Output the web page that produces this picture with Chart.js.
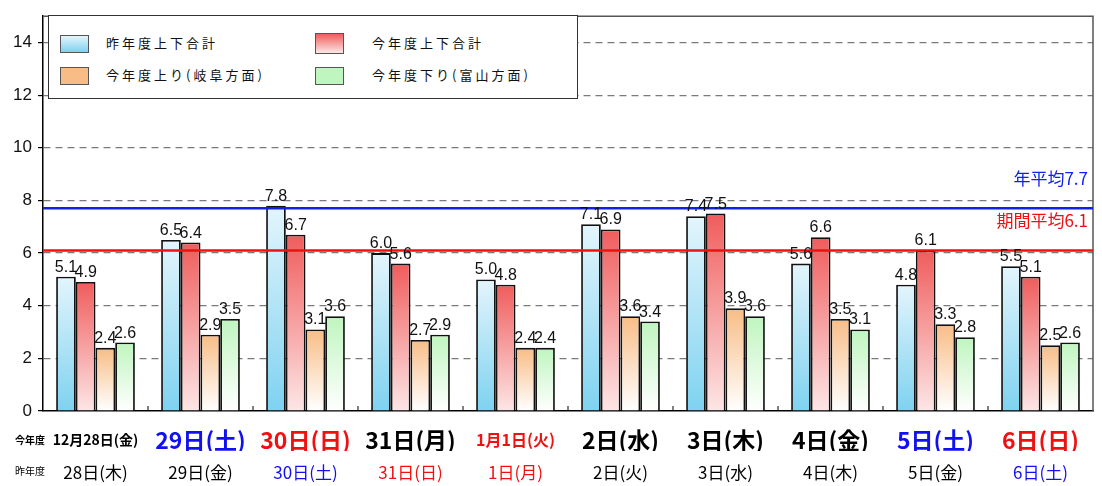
<!DOCTYPE html>
<html>
<head>
<meta charset="utf-8">
<script src="https://cdn.jsdelivr.net/npm/chart.js@4.4.1/dist/chart.umd.min.js"></script>
<style>
body { margin: 0; background: #fff; }
#wrap { position: relative; width: 1102px; height: 486px; }
#legend { position: absolute; left: 48px; top: 15px; width: 528px; height: 82px; border: 1.5px solid #333; background: #fff;
  font-family: "Noto Sans CJK JP", sans-serif; font-size: 13px; letter-spacing: 3px; color: #111; }
#legend .sw { position: absolute; width: 27px; height: 16px; border: 1.5px solid #555; }
#legend .tx { position: absolute; white-space: nowrap; }
</style>
</head>
<body>
<div id="wrap">
  <canvas id="trafficChart"></canvas>
  <div id="legend"></div>
</div>
<script>
var thisYearLabels = ["12月28日(金)", "29日(土)", "30日(日)", "31日(月)", "1月1日(火)", "2日(水)", "3日(木)", "4日(金)", "5日(土)", "6日(日)"];
var lastYearLabels = ["28日(木)", "29日(金)", "30日(土)", "31日(日)", "1日(月)", "2日(火)", "3日(水)", "4日(木)", "5日(金)", "6日(土)"];
var thisYearColors = ["#000", "#1010f0", "#f01010", "#000", "#f01010", "#000", "#000", "#000", "#1010f0", "#f01010"];
var lastYearColors = ["#000", "#000", "#1010f0", "#f01010", "#f01010", "#000", "#000", "#000", "#000", "#1010f0"];
var thisYearSizes = [14, 23, 23, 23, 16, 23, 23, 23, 23, 23];

var lastYearTotal = [5.1, 6.5, 7.8, 6.0, 5.0, 7.1, 7.4, 5.6, 4.8, 5.5];
var thisYearTotal = [4.9, 6.4, 6.7, 5.6, 4.8, 6.9, 7.5, 6.6, 6.1, 5.1];
var thisYearUp = [2.4, 2.9, 3.1, 2.7, 2.4, 3.6, 3.9, 3.5, 3.3, 2.5];
var thisYearDown = [2.6, 3.5, 3.6, 2.9, 2.4, 3.4, 3.6, 3.1, 2.8, 2.6];

var yearAverage = 7.7;
var periodAverage = 6.1;

var seriesNames = ["昨年度上下合計", "今年度上下合計", "今年度上り(岐阜方面)", "今年度下り(富山方面)"];
// top colour, bottom colour
var seriesGrad = [["#e4f5fc", "#7ed2f0"], ["#f05c5c", "#fde6e6"], ["#f8bd86", "#ffffff"], ["#bff5bf", "#ffffff"]];

var jp = '"Noto Sans CJK JP", sans-serif';
var num = '"Liberation Sans", Arial, sans-serif';

function barFill(k) {
    return function(c) {
        var chart = c.chart;
        if (!chart.chartArea || !chart.scales.y || c.raw === undefined) return seriesGrad[k][1];
        var y = chart.scales.y;
        var top = y.getPixelForValue(c.raw);
        var bottom = y.getPixelForValue(0);
        var g = chart.ctx.createLinearGradient(0, top, 0, bottom);
        g.addColorStop(0, seriesGrad[k][0]);
        g.addColorStop(1, seriesGrad[k][1]);
        return g;
    };
}

// legend
var legend = document.getElementById("legend");
var legPos = [[11, 19], [266, 17], [11, 51], [266, 51]];
var legTextX = [57, 323, 57, 323];
seriesNames.forEach(function(name, k) {
    var sw = document.createElement("div");
    sw.className = "sw";
    sw.style.left = legPos[k][0] + "px";
    sw.style.top = legPos[k][1] + "px";
    if (k === 1) sw.style.height = "19px";
    sw.style.background = "linear-gradient(" + seriesGrad[k][0] + "," + (k > 1 ? seriesGrad[k][0] : seriesGrad[k][1]) + ")";
    legend.appendChild(sw);
    var tx = document.createElement("div");
    tx.className = "tx";
    tx.textContent = name;
    tx.style.left = legTextX[k] + "px";
    tx.style.top = (k === 1 ? 17 : legPos[k][1] - 2) + "px";
    legend.appendChild(tx);
});

var extras = {
    id: "extras",
    afterDatasetsDraw: function(chart) {
        var ctx = chart.ctx, a = chart.chartArea, y = chart.scales.y, x = chart.scales.x;
        ctx.save();
        // frame
        ctx.strokeStyle = "#555";
        ctx.lineWidth = 1.5;
        ctx.beginPath();
        ctx.moveTo(a.left, a.top); ctx.lineTo(a.right, a.top); ctx.lineTo(a.right, a.bottom);
        ctx.stroke();
        // category ticks
        ctx.strokeStyle = "#000";
        ctx.lineWidth = 1;
        var w = x.getPixelForValue(1) - x.getPixelForValue(0);
        for (var i = 1; i < thisYearLabels.length; i++) {
            var px = x.getPixelForValue(i) - w / 2;
            ctx.beginPath(); ctx.moveTo(px, a.bottom); ctx.lineTo(px, a.bottom - 5); ctx.stroke();
        }
        // average lines
        var avgs = [[yearAverage, "#1020f0", "年平均"], [periodAverage, "#f01010", "期間平均"]];
        avgs.forEach(function(v) {
            var py = y.getPixelForValue(v[0]);
            ctx.strokeStyle = v[1];
            ctx.lineWidth = 2.5;
            ctx.beginPath(); ctx.moveTo(a.left, py); ctx.lineTo(a.right, py); ctx.stroke();
            ctx.fillStyle = v[1];
            ctx.font = "17px " + jp;
            ctx.textAlign = "right";
            ctx.textBaseline = "alphabetic";
            ctx.fillText(v[2] + v[0].toFixed(1), a.right - 5, py - 23);
        });
        // value labels
        ctx.fillStyle = "#111";
        ctx.font = "16px " + num;
        ctx.textAlign = "center";
        ctx.textBaseline = "alphabetic";
        chart.data.datasets.forEach(function(ds, i) {
            chart.getDatasetMeta(i).data.forEach(function(bar, j) {
                ctx.fillText(ds.data[j].toFixed(1), bar.x, bar.y - 5);
            });
        });
        // row headers
        ctx.fillStyle = "#000";
        ctx.textAlign = "center";
        ctx.textBaseline = "middle";
        ctx.font = "bold 10px " + jp;
        ctx.fillText("今年度", 30, 440);
        ctx.font = "10px " + jp;
        ctx.fillText("昨年度", 30, 471);
        ctx.restore();
    }
};

var allSeries = [lastYearTotal, thisYearTotal, thisYearUp, thisYearDown];
var datasets = allSeries.map(function(d, k) {
    return {
        label: seriesNames[k],
        data: d,
        xAxisID: "x",
        yAxisID: "y",
        backgroundColor: barFill(k),
        borderColor: "#111",
        borderWidth: 1.8,
        borderSkipped: "bottom",
        categoryPercentage: 0.75,
        barPercentage: 1.0
    };
});

var trafficChart = new Chart(document.getElementById("trafficChart"), {
    type: "bar",
    data: { labels: thisYearLabels, datasets: datasets },
    options: {
        responsive: true,
        maintainAspectRatio: false,
        animation: false,
        layout: { padding: { left: 0, right: 9, top: 10, bottom: 0 } },
        plugins: { legend: { display: false }, tooltip: { enabled: false } },
        scales: {
            x: {
                type: "category",
                position: "bottom",
                grid: { display: false },
                border: { color: "#000", width: 1.5 },
                ticks: {
                    autoSkip: false, maxRotation: 0, minRotation: 0, padding: 7,
                    color: function(c) { return thisYearColors[c.index]; },
                    font: function(c) { return { family: jp, size: thisYearSizes[c.index], weight: "bold", lineHeight: "28px" }; }
                },
                afterFit: function(s) { s.height = 40; }
            },
            x2: {
                type: "category",
                position: "bottom",
                labels: lastYearLabels,
                grid: { display: false },
                border: { display: false },
                ticks: {
                    autoSkip: false, maxRotation: 0, minRotation: 0, padding: 3,
                    color: function(c) { return lastYearColors[c.index]; },
                    font: { family: jp, size: 17 }
                },
                afterFit: function(s) { s.height = 35; }
            },
            y: {
                min: 0,
                max: 15,
                grid: {
                    color: function(c) { return c.tick && c.tick.value === 0 ? "rgba(0,0,0,0)" : "#7a7a7a"; },
                    lineWidth: 1.2,
                    drawTicks: true,
                    tickLength: 5,
                    tickColor: "#000"
                },
                border: { color: "#000", width: 1.5, dash: [7, 5] },
                ticks: {
                    stepSize: 2, includeBounds: false, padding: 6,
                    color: "#111",
                    font: { family: num, size: 17 }
                },
                afterFit: function(s) { s.width = 43; }
            }
        }
    },
    plugins: [extras]
});
</script>
</body>
</html>
